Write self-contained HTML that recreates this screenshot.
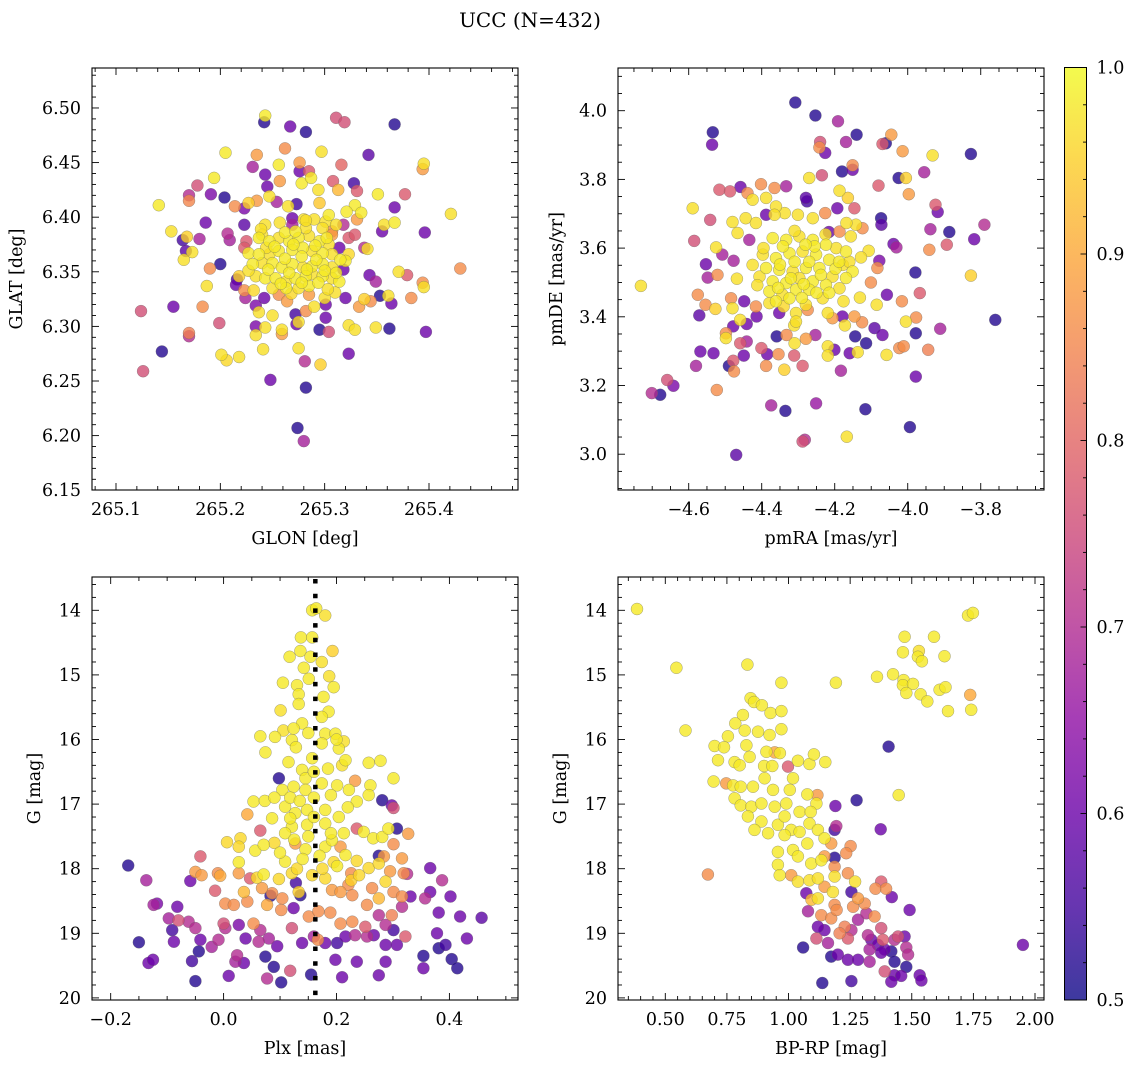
<!DOCTYPE html>
<html><head><meta charset="utf-8"><style>
html,body{margin:0;padding:0;background:#fff;}
svg{display:block;font-family:"DejaVu Serif","Liberation Serif",serif;}
</style></head><body>
<svg id="fig" width="1136" height="1067" viewBox="0 0 1136 1067" xmlns="http://www.w3.org/2000/svg">
<text x="530" y="27" font-size="20" text-anchor="middle">UCC (N=432)</text>
</svg>
<script>
// ---------- data ----------
const panel1Points = [ // [GLON, GLAT, prob]
[265.243,6.493,0.98],[265.242,6.487,0.52],[265.267,6.483,0.6],[265.282,6.478,0.52],[265.311,6.491,0.76],[265.319,6.487,0.76],[265.367,6.485,0.52],
[265.205,6.459,0.98],[265.235,6.457,0.88],[265.262,6.463,0.86],[265.297,6.460,0.97],[265.342,6.457,0.58],[265.256,6.448,0.98],[265.276,6.450,0.88],
[265.316,6.448,0.8],[265.395,6.449,0.97],[265.394,6.444,0.88],[265.231,6.446,0.68],[265.243,6.439,0.6],[265.276,6.442,0.6],[265.285,6.442,0.78],
[265.194,6.436,0.98],[265.178,6.429,0.76],[265.191,6.421,0.62],[265.170,6.420,0.7],[265.170,6.415,0.85],[265.204,6.418,0.52],[265.245,6.428,0.6],
[265.257,6.433,0.88],[265.247,6.419,0.97],[265.278,6.431,0.98],[265.287,6.436,0.98],[265.294,6.425,0.97],[265.308,6.433,0.78],[265.328,6.431,0.55],
[265.331,6.424,0.78],[265.313,6.425,0.92],[265.351,6.421,0.98],[265.377,6.421,0.78],[265.141,6.411,0.98],[265.214,6.410,0.86],[265.223,6.408,0.62],
[265.227,6.413,0.95],[265.235,6.415,0.88],[265.254,6.414,0.68],[265.265,6.410,0.97],[265.273,6.412,0.55],[265.295,6.413,0.94],[265.329,6.411,0.98],
[265.367,6.409,0.6],[265.421,6.403,0.97],[265.186,6.395,0.6],[265.153,6.387,0.97],[265.164,6.379,0.55],[265.168,6.382,0.95],[265.180,6.380,0.68],
[265.207,6.385,0.7],[265.209,6.379,0.68],[265.223,6.393,0.58],[265.243,6.393,0.97],[265.257,6.395,0.97],[265.269,6.399,0.6],[265.280,6.398,0.97],
[265.290,6.398,0.97],[265.301,6.396,0.97],[265.307,6.387,0.86],[265.318,6.393,0.7],[265.321,6.405,0.98],[265.335,6.404,0.98],[265.331,6.398,0.88],
[265.357,6.393,0.97],[265.355,6.387,0.6],[265.367,6.395,0.98],[265.396,6.386,0.6],[265.323,6.381,0.78],[265.329,6.384,0.78],[265.225,6.378,0.78],
[265.338,6.372,0.7],[265.341,6.371,0.97],[265.167,6.369,0.58],[265.173,6.368,0.97],[265.165,6.361,0.97],[265.200,6.357,0.52],[265.190,6.353,0.86],
[265.187,6.337,0.97],[265.216,6.343,0.55],[265.218,6.346,0.95],[265.215,6.338,0.6],[265.223,6.333,0.86],[265.224,6.326,0.68],[265.232,6.333,0.96],
[265.242,6.326,0.6],[265.234,6.319,0.62],[265.237,6.313,0.97],[265.250,6.310,0.97],[265.264,6.323,0.88],[265.272,6.311,0.55],[265.282,6.314,0.86],
[265.290,6.318,0.97],[265.301,6.320,0.6],[265.301,6.308,0.6],[265.300,6.326,0.97],[265.310,6.331,0.97],[265.320,6.326,0.6],[265.314,6.341,0.98],
[265.318,6.352,0.6],[265.320,6.360,0.98],[265.343,6.347,0.6],[265.349,6.341,0.68],[265.353,6.328,0.52],[265.361,6.328,0.97],[265.364,6.321,0.6],
[265.338,6.325,0.95],[265.344,6.323,0.86],[265.333,6.318,0.88],[265.371,6.350,0.97],[265.379,6.347,0.78],[265.394,6.340,0.86],[265.395,6.336,0.97],
[265.383,6.326,0.86],[265.430,6.353,0.86],[265.155,6.318,0.6],[265.124,6.314,0.76],[265.183,6.318,0.86],[265.199,6.303,0.76],[265.170,6.294,0.84],
[265.170,6.291,0.7],[265.144,6.277,0.52],[265.126,6.259,0.76],[265.201,6.274,0.97],[265.206,6.269,0.96],[265.218,6.272,0.97],[265.241,6.279,0.97],
[265.234,6.300,0.62],[265.234,6.292,0.97],[265.243,6.299,0.97],[265.259,6.297,0.97],[265.259,6.293,0.88],[265.273,6.302,0.6],[265.275,6.304,0.97],
[265.295,6.297,0.52],[265.304,6.295,0.76],[265.323,6.301,0.97],[265.329,6.297,0.97],[265.349,6.299,0.97],[265.362,6.298,0.52],[265.397,6.295,0.6],
[265.275,6.280,0.97],[265.281,6.268,0.7],[265.296,6.265,0.95],[265.323,6.275,0.6],[265.248,6.251,0.6],[265.282,6.244,0.52],[265.274,6.207,0.52],
[265.280,6.195,0.68],
[265.237,6.381,0.98],[265.247,6.378,0.98],[265.256,6.381,0.97],[265.266,6.378,0.98],[265.275,6.381,0.98],[265.285,6.383,0.97],[265.295,6.378,0.98],
[265.304,6.375,0.97],[265.227,6.367,0.98],[265.237,6.366,0.98],[265.247,6.366,0.97],[265.256,6.369,0.98],[265.269,6.370,0.98],[265.279,6.372,0.98],
[265.288,6.369,0.97],[265.298,6.367,0.98],[265.307,6.366,0.97],[265.231,6.357,0.98],[265.240,6.358,0.97],[265.250,6.358,0.98],[265.259,6.354,0.98],
[265.269,6.357,0.98],[265.279,6.354,0.97],[265.288,6.355,0.98],[265.298,6.357,0.98],[265.307,6.354,0.97],[265.315,6.361,0.98],[265.234,6.346,0.97],
[265.243,6.344,0.98],[265.253,6.344,0.98],[265.263,6.341,0.97],[265.272,6.344,0.98],[265.282,6.346,0.98],[265.288,6.348,0.97],[265.298,6.346,0.98],
[265.307,6.344,0.97],[265.263,6.335,0.98],[265.275,6.335,0.97],[265.285,6.337,0.98],[265.250,6.335,0.97],[265.240,6.384,0.97],[265.298,6.390,0.97],
[265.304,6.402,0.98],[265.282,6.390,0.97],[265.269,6.393,0.68],[265.223,6.372,0.78],[265.307,6.384,0.88],[265.314,6.372,0.6],[265.285,6.329,0.88],
[265.256,6.329,0.86],[265.227,6.351,0.97],
[265.262,6.386,0.98],[265.272,6.387,0.98],[265.278,6.364,0.98],[265.262,6.362,0.98],[265.252,6.373,0.98],[265.292,6.361,0.98],[265.283,6.352,0.98],
[265.266,6.349,0.98],[265.246,6.352,0.98],[265.300,6.351,0.98],[265.291,6.374,0.98],[265.270,6.375,0.98],[265.258,6.339,0.98],[265.278,6.340,0.98],
[265.294,6.340,0.98],[265.311,6.349,0.98],[265.244,6.372,0.97],[265.302,6.381,0.98],[265.282,6.397,0.97],[265.311,6.393,0.97],[265.323,6.366,0.96],
[265.239,6.389,0.97],[265.268,6.330,0.96],[265.303,6.334,0.97]
];
const panel2Points = [ // [pmRA, pmDE, prob]
[-4.308,4.024,0.52],[-4.253,3.986,0.52],[-4.191,3.969,0.68],[-4.140,3.930,0.52],[-4.169,3.909,0.68],[-4.240,3.909,0.76],[-4.242,3.893,0.86],
[-4.226,3.877,0.6],[-4.534,3.937,0.52],[-4.536,3.901,0.6],[-4.069,3.903,0.78],[-4.060,3.905,0.52],[-4.045,3.930,0.88],[-4.014,3.882,0.88],
[-3.932,3.870,0.97],[-3.827,3.874,0.52],[-4.151,3.841,0.86],[-4.151,3.828,0.6],[-4.180,3.823,0.52],[-4.235,3.812,0.76],[-4.270,3.804,0.97],
[-4.025,3.804,0.52],[-4.005,3.804,0.95],[-3.955,3.821,0.68],[-3.997,3.757,0.88],[-4.080,3.782,0.78],[-4.187,3.767,0.97],[-4.164,3.746,0.95],
[-3.924,3.726,0.78],[-3.918,3.705,0.6],[-4.589,3.716,0.97],[-4.516,3.770,0.78],[-4.487,3.765,0.78],[-4.458,3.778,0.6],[-4.402,3.786,0.86],
[-4.365,3.775,0.86],[-4.333,3.780,0.68],[-4.388,3.746,0.97],[-4.425,3.741,0.97],[-4.439,3.760,0.86],[-4.279,3.746,0.58],[-4.276,3.736,0.55],
[-4.193,3.716,0.6],[-4.146,3.716,0.78],[-4.073,3.687,0.52],[-4.072,3.668,0.58],[-4.541,3.682,0.76],[-4.585,3.621,0.76],[-4.553,3.553,0.6],
[-4.548,3.514,0.68],[-4.731,3.490,0.97],[-4.525,3.602,0.97],[-4.508,3.581,0.68],[-4.477,3.563,0.68],[-4.480,3.676,0.97],[-4.444,3.687,0.97],
[-4.416,3.673,0.97],[-4.466,3.644,0.97],[-4.434,3.624,0.68],[-4.468,3.511,0.97],[-4.521,3.522,0.86],[-4.575,3.464,0.86],[-4.554,3.435,0.86],
[-4.571,3.404,0.58],[-4.527,3.423,0.95],[-4.484,3.454,0.86],[-4.480,3.425,0.97],[-4.448,3.445,0.6],[-4.416,3.430,0.86],[-4.414,3.401,0.6],
[-4.459,3.391,0.97],[-4.441,3.379,0.6],[-4.478,3.372,0.6],[-4.498,3.352,0.86],[-4.498,3.338,0.97],[-4.441,3.328,0.68],[-4.459,3.323,0.78],
[-4.568,3.299,0.6],[-4.532,3.294,0.6],[-4.449,3.287,0.6],[-4.580,3.257,0.68],[-4.490,3.257,0.52],[-4.478,3.272,0.78],[-4.476,3.241,0.86],
[-4.659,3.216,0.76],[-4.642,3.199,0.62],[-4.701,3.178,0.7],[-4.678,3.173,0.52],[-4.523,3.187,0.86],[-4.401,3.309,0.78],[-4.385,3.291,0.6],
[-4.388,3.257,0.86],[-4.354,3.291,0.86],[-4.338,3.246,0.95],[-4.311,3.287,0.78],[-4.288,3.257,0.78],[-4.359,3.343,0.52],[-4.332,3.347,0.86],
[-4.279,3.336,0.88],[-4.253,3.347,0.68],[-4.310,3.323,0.97],[-4.311,3.375,0.97],[-4.306,3.411,0.97],[-4.352,3.411,0.6],[-4.274,3.420,0.86],
[-4.219,3.411,0.97],[-4.206,3.396,0.88],[-4.179,3.401,0.6],[-4.172,3.375,0.97],[-4.146,3.401,0.88],[-4.125,3.384,0.86],[-4.219,3.314,0.97],
[-4.201,3.304,0.6],[-4.219,3.287,0.97],[-4.183,3.243,0.68],[-4.159,3.294,0.6],[-4.137,3.297,0.97],[-4.144,3.343,0.52],[-4.114,3.323,0.52],
[-4.091,3.367,0.58],[-4.069,3.347,0.6],[-4.058,3.289,0.97],[-4.023,3.309,0.86],[-4.011,3.314,0.86],[-4.005,3.386,0.97],[-3.977,3.398,0.86],
[-3.978,3.352,0.52],[-3.944,3.304,0.84],[-3.911,3.365,0.68],[-3.760,3.391,0.52],[-3.978,3.226,0.6],[-3.979,3.529,0.52],[-3.967,3.469,0.78],
[-4.016,3.445,0.86],[-4.057,3.464,0.6],[-4.085,3.435,0.97],[-4.101,3.500,0.86],[-4.131,3.456,0.97],[-4.176,3.445,0.97],[-3.827,3.520,0.95],
[-3.941,3.595,0.86],[-3.893,3.610,0.78],[-3.886,3.647,0.52],[-3.818,3.626,0.6],[-3.790,3.668,0.7],[-3.938,3.655,0.68],[-4.039,3.612,0.6],
[-4.031,3.602,0.68],[-4.078,3.563,0.62],[-4.083,3.542,0.86],[-4.107,3.592,0.97],[-4.128,3.573,0.97],[-4.124,3.658,0.86],[-4.142,3.668,0.97],
[-4.168,3.673,0.97],[-4.156,3.634,0.97],[-4.187,3.648,0.86],[-4.216,3.647,0.6],[-4.226,3.702,0.86],[-4.260,3.687,0.97],[-4.301,3.697,0.97],
[-4.337,3.702,0.97],[-4.361,3.721,0.97],[-4.388,3.697,0.6],[-4.365,3.697,0.97],[-4.288,3.037,0.76],[-4.282,3.042,0.7],[-4.335,3.126,0.52],
[-4.374,3.142,0.68],[-4.251,3.148,0.66],[-4.116,3.131,0.52],[-3.994,3.079,0.52],[-4.167,3.051,0.97],[-4.470,2.998,0.58],
[-4.370,3.629,0.98],[-4.333,3.624,0.98],[-4.297,3.634,0.97],[-4.260,3.624,0.98],[-4.224,3.610,0.98],[-4.196,3.600,0.97],[-4.169,3.590,0.98],
[-4.397,3.581,0.97],[-4.361,3.571,0.98],[-4.324,3.585,0.98],[-4.288,3.590,0.97],[-4.251,3.581,0.98],[-4.215,3.566,0.98],[-4.178,3.551,0.97],
[-4.151,3.532,0.98],[-4.425,3.551,0.97],[-4.388,3.542,0.98],[-4.352,3.537,0.98],[-4.315,3.532,0.97],[-4.279,3.542,0.98],[-4.242,3.542,0.98],
[-4.206,3.517,0.97],[-4.169,3.513,0.98],[-4.406,3.517,0.97],[-4.370,3.503,0.98],[-4.333,3.498,0.98],[-4.297,3.513,0.97],[-4.260,3.503,0.98],
[-4.224,3.493,0.98],[-4.187,3.483,0.97],[-4.379,3.474,0.98],[-4.343,3.464,0.97],[-4.306,3.479,0.98],[-4.270,3.479,0.98],[-4.233,3.454,0.97],
[-4.361,3.445,0.98],[-4.324,3.454,0.98],[-4.279,3.435,0.97],[-4.379,3.440,0.97],[-4.306,3.386,0.97],
[-4.342,3.605,0.98],[-4.310,3.560,0.98],[-4.270,3.560,0.98],[-4.238,3.522,0.98],[-4.198,3.540,0.98],[-4.350,3.552,0.98],[-4.320,3.512,0.98],
[-4.285,3.495,0.98],[-4.250,3.470,0.98],[-4.215,3.470,0.98],[-4.395,3.600,0.97],[-4.412,3.492,0.97],[-4.355,3.484,0.98],[-4.290,3.455,0.98],
[-4.255,3.605,0.98],[-4.310,3.650,0.97],[-4.280,3.610,0.98],[-4.188,3.560,0.98],[-4.160,3.560,0.97],[-4.340,3.430,0.96],[-4.225,3.640,0.97]
];
const panel3Points = [ // [Plx, G, prob]
[0.157,14.00,0.98],[0.164,13.97,0.98],[0.180,14.08,0.97],[0.137,14.42,0.98],[0.157,14.42,0.98],[0.193,14.63,0.95],[0.117,14.72,0.98],
[0.136,14.63,0.98],[0.154,14.72,0.98],[0.174,14.80,0.97],[0.142,14.89,0.98],[0.105,15.12,0.98],[0.130,15.16,0.98],[0.151,15.06,0.98],
[0.187,15.02,0.97],[0.195,15.19,0.98],[0.133,15.30,0.98],[0.177,15.34,0.98],[0.133,15.45,0.98],[0.101,15.55,0.97],[0.186,15.57,0.98],
[0.174,15.65,0.98],[0.139,15.75,0.98],[0.124,15.83,0.98],[0.106,15.86,0.97],[0.065,15.95,0.98],[0.091,15.96,0.98],[0.121,16.01,0.98],
[0.128,16.12,0.98],[0.180,15.91,0.98],[0.198,15.91,0.98],[0.213,16.03,0.97],[0.204,16.14,0.98],[0.074,16.20,0.98],[0.174,16.06,0.98],
[0.157,16.29,0.98],[0.216,16.32,0.98],[0.210,16.40,0.97],[0.257,16.36,0.98],[0.278,16.33,0.98],[0.301,16.60,0.98],[0.098,16.60,0.52],
[0.139,16.47,0.98],[0.145,16.60,0.98],[0.104,16.78,0.98],[0.124,16.73,0.98],[0.145,16.78,0.98],[0.174,16.68,0.98],[0.201,16.71,0.98],
[0.233,16.64,0.88],[0.260,16.71,0.98],[0.222,16.78,0.98],[0.257,16.86,0.98],[0.236,16.96,0.98],[0.281,16.94,0.52],[0.298,17.02,0.6],
[0.301,17.06,0.76],[0.053,16.96,0.98],[0.073,16.95,0.98],[0.042,17.16,0.9],[0.086,17.22,0.98],[0.109,17.04,0.98],[0.127,17.14,0.98],
[0.148,17.09,0.98],[0.180,17.09,0.98],[0.204,17.20,0.98],[0.121,17.35,0.98],[0.148,17.32,0.98],[0.180,17.30,0.98],[0.213,17.45,0.98],
[0.065,17.41,0.78],[0.109,17.45,0.98],[0.236,17.38,0.78],[0.248,17.43,0.98],[0.265,17.53,0.98],[0.281,17.51,0.98],[0.292,17.38,0.98],
[0.307,17.38,0.52],[0.327,17.46,0.88],[0.301,17.62,0.86],[0.006,17.59,0.96],[0.030,17.53,0.96],[0.027,17.66,0.96],[0.056,17.72,0.98],
[0.071,17.63,0.98],[-0.041,17.81,0.78],[0.027,17.90,0.98],[0.109,17.89,0.98],[0.127,17.61,0.88],[0.145,17.70,0.98],[0.180,17.66,0.98],
[0.192,17.56,0.98],[0.207,17.66,0.88],[0.216,17.79,0.98],[0.275,17.80,0.52],[0.284,17.81,0.88],[0.316,17.84,0.88],[0.201,17.96,0.98],
[0.236,17.88,0.96],[0.257,17.99,0.96],[0.275,17.92,0.96],[0.295,18.04,0.88],[0.319,18.07,0.86],[0.325,18.08,0.7],[0.366,17.99,0.6],
[-0.169,17.95,0.52],[-0.137,18.18,0.68],[-0.059,18.19,0.6],[-0.050,18.05,0.88],[-0.039,18.10,0.88],[-0.010,18.07,0.86],[-0.006,18.11,0.9],
[0.027,18.07,0.88],[0.047,18.15,0.78],[0.059,18.14,0.96],[0.071,18.09,0.98],[0.098,18.16,0.96],[0.121,18.07,0.96],[0.128,18.22,0.55],
[0.157,18.10,0.96],[0.180,18.15,0.96],[0.226,18.07,0.86],[0.226,18.18,0.95],[0.221,18.25,0.86],[0.387,18.18,0.7],[-0.015,18.34,0.78],
[0.036,18.36,0.92],[0.068,18.30,0.88],[0.086,18.38,0.86],[0.133,18.36,0.95],[0.136,18.41,0.52],[0.083,18.42,0.52],[0.104,18.46,0.86],
[0.192,18.33,0.88],[0.207,18.36,0.88],[0.228,18.41,0.86],[0.263,18.30,0.86],[0.275,18.46,0.92],[0.287,18.20,0.96],[0.301,18.36,0.86],
[0.316,18.43,0.86],[0.331,18.43,0.6],[0.357,18.46,0.7],[0.366,18.36,0.6],[0.402,18.43,0.6],[-0.124,18.56,0.68],[-0.118,18.54,0.62],
[-0.082,18.59,0.6],[0.003,18.54,0.86],[0.018,18.56,0.86],[0.042,18.51,0.86],[0.077,18.56,0.9],[0.102,18.64,0.86],[0.124,18.61,0.6],
[0.151,18.74,0.86],[0.168,18.66,0.86],[0.189,18.68,0.86],[0.254,18.56,0.86],[0.275,18.72,0.7],[0.298,18.72,0.84],[0.316,18.59,0.7],
[0.381,18.68,0.6],[0.419,18.74,0.6],[0.457,18.76,0.58],[-0.097,18.77,0.68],[-0.080,18.80,0.76],[-0.062,18.82,0.7],[-0.050,18.92,0.7],
[-0.091,18.95,0.55],[-0.088,19.13,0.6],[-0.150,19.14,0.52],[-0.041,19.10,0.6],[0.000,18.85,0.76],[0.003,18.92,0.7],[0.027,18.87,0.62],
[0.053,18.85,0.86],[0.065,18.95,0.7],[0.039,19.08,0.6],[-0.009,19.10,0.7],[-0.021,19.21,0.68],[0.062,19.13,0.7],[0.080,19.08,0.68],
[0.095,19.20,0.6],[0.121,18.92,0.76],[0.139,19.15,0.6],[0.160,19.05,0.68],[0.167,19.10,0.86],[0.180,19.15,0.6],[0.201,19.15,0.55],
[0.216,19.05,0.6],[0.207,18.85,0.86],[0.228,18.82,0.86],[0.233,19.03,0.7],[0.251,18.90,0.78],[0.254,19.05,0.7],[0.266,19.03,0.6],
[0.287,18.87,0.7],[0.301,18.95,0.55],[0.287,19.18,0.6],[0.307,19.18,0.6],[0.322,19.05,0.78],[0.378,19.00,0.6],[0.381,19.23,0.52],
[0.393,19.18,0.55],[0.431,19.08,0.6],[0.354,19.35,0.52],[-0.133,19.46,0.6],[-0.125,19.41,0.6],[-0.056,19.43,0.55],[-0.044,19.28,0.52],
[0.024,19.34,0.7],[0.021,19.44,0.68],[0.036,19.46,0.6],[0.074,19.36,0.52],[0.089,19.52,0.52],[0.118,19.58,0.76],[0.198,19.41,0.6],
[0.236,19.44,0.6],[0.287,19.44,0.6],[0.354,19.54,0.6],[0.404,19.40,0.52],[0.414,19.54,0.52],[-0.050,19.74,0.52],[0.009,19.66,0.6],
[0.077,19.70,0.7],[0.102,19.76,0.52],[0.155,19.64,0.52],[0.210,19.68,0.6],[0.275,19.65,0.6],
[0.118,16.90,0.98],[0.135,16.95,0.98],[0.160,16.90,0.98],[0.190,16.86,0.98],[0.118,17.22,0.98],[0.160,17.20,0.98],[0.190,17.45,0.98],
[0.150,17.50,0.98],[0.125,17.55,0.98],[0.170,17.80,0.98],[0.140,17.85,0.98],[0.100,17.75,0.98],[0.160,16.50,0.98],[0.185,16.45,0.98],
[0.115,16.35,0.98],[0.090,16.90,0.98],[0.220,17.05,0.98],[0.200,16.00,0.98],[0.150,15.90,0.98],[0.195,17.90,0.96],[0.130,18.00,0.96],
[0.175,18.00,0.96],[0.240,18.10,0.96],[0.090,17.60,0.96]
];
const panel4Points = [ // [BP-RP, G, prob]
[0.385,13.98,0.98],[1.728,14.08,0.98],[1.748,14.04,0.98],[1.471,14.41,0.98],[1.590,14.41,0.98],[1.464,14.65,0.98],[1.529,14.63,0.97],
[1.525,14.72,0.98],[1.541,14.79,0.98],[1.633,14.71,0.98],[0.545,14.89,0.98],[0.833,14.84,0.98],[0.971,15.12,0.98],[1.192,15.12,0.98],
[1.359,15.03,0.98],[1.424,14.99,0.98],[1.467,15.08,0.98],[1.464,15.16,0.98],[1.505,15.14,0.98],[1.478,15.28,0.98],[1.536,15.30,0.98],
[1.563,15.41,0.98],[1.613,15.23,0.98],[1.637,15.19,0.98],[1.737,15.31,0.9],[1.647,15.56,0.98],[1.741,15.54,0.98],[1.406,16.11,0.52],
[1.447,16.86,0.98],[0.582,15.86,0.98],[0.846,15.36,0.98],[0.860,15.42,0.98],[0.892,15.47,0.98],[0.927,15.59,0.98],[0.971,15.56,0.98],
[0.815,15.62,0.98],[0.784,15.75,0.98],[0.822,15.86,0.98],[0.876,15.88,0.98],[0.923,15.93,0.98],[0.971,15.84,0.98],[0.754,15.95,0.98],
[0.700,16.10,0.98],[0.738,16.12,0.98],[0.714,16.32,0.98],[0.829,16.09,0.98],[0.842,16.27,0.98],[0.781,16.35,0.98],[0.802,16.40,0.98],
[0.910,16.19,0.98],[0.944,16.20,0.9],[0.965,16.21,0.98],[0.901,16.41,0.98],[0.934,16.41,0.98],[1.038,16.33,0.98],[1.085,16.38,0.98],
[1.103,16.23,0.98],[1.149,16.35,0.98],[0.998,16.42,0.78],[0.696,16.65,0.98],[0.747,16.68,0.88],[0.775,16.71,0.98],[0.806,16.73,0.98],
[0.856,16.73,0.98],[0.903,16.60,0.98],[0.937,16.78,0.98],[1.018,16.60,0.98],[1.005,16.78,0.98],[1.076,16.85,0.98],[1.117,16.86,0.88],
[1.113,16.99,0.98],[0.781,16.91,0.98],[0.806,17.02,0.98],[0.849,17.04,0.98],[0.890,16.99,0.98],[0.944,17.04,0.98],[0.991,16.99,0.98],
[1.045,17.12,0.98],[1.090,17.12,0.98],[0.835,17.19,0.98],[0.890,17.27,0.98],[0.957,17.32,0.98],[1.011,17.40,0.98],[0.984,17.19,0.98],
[0.862,17.40,0.98],[0.917,17.45,0.98],[0.984,17.48,0.98],[1.045,17.43,0.98],[1.085,17.30,0.98],[1.119,17.40,0.98],[1.146,17.53,0.98],
[1.076,17.61,0.98],[1.018,17.71,0.98],[0.957,17.74,0.98],[0.957,17.94,0.98],[0.964,18.10,0.98],[1.038,17.81,0.98],[1.092,17.92,0.98],
[1.133,17.87,0.98],[1.187,17.40,0.55],[1.194,17.34,0.7],[1.190,17.03,0.6],[1.276,16.94,0.52],[1.374,17.39,0.6],[1.252,17.65,0.86],
[1.234,17.76,0.86],[1.187,17.83,0.52],[1.146,17.81,0.88],[1.173,17.61,0.88],[0.673,18.09,0.86],[1.187,17.97,0.86],[1.011,18.10,0.88],
[1.038,18.20,0.97],[1.085,18.18,0.97],[1.119,18.15,0.97],[1.187,18.12,0.97],[1.241,18.07,0.86],[1.270,18.20,0.97],[1.376,18.20,0.78],
[1.353,18.31,0.86],[1.396,18.31,0.86],[1.419,18.44,0.6],[1.491,18.64,0.6],[1.072,18.38,0.6],[1.093,18.48,0.92],[1.119,18.46,0.97],
[1.146,18.28,0.88],[1.180,18.36,0.97],[1.187,18.56,0.86],[1.255,18.36,0.55],[1.282,18.46,0.88],[1.309,18.54,0.86],[1.262,18.59,0.86],
[1.079,18.66,0.68],[1.133,18.72,0.86],[1.173,18.77,0.86],[1.195,18.64,0.86],[1.349,18.74,0.86],[1.282,18.79,0.68],[1.316,18.69,0.7],
[1.228,18.90,0.84],[1.255,18.95,0.7],[1.207,19.00,0.84],[1.241,19.08,0.78],[1.146,18.95,0.6],[1.119,18.90,0.6],[1.113,19.08,0.76],
[1.160,19.15,0.68],[1.059,19.22,0.52],[1.200,19.33,0.6],[1.173,19.36,0.52],[1.241,19.41,0.6],[1.282,19.41,0.6],[1.329,19.44,0.68],
[1.376,18.92,0.76],[1.322,19.03,0.7],[1.336,19.10,0.6],[1.363,19.18,0.6],[1.390,19.25,0.6],[1.383,19.10,0.78],[1.430,19.10,0.7],
[1.471,19.05,0.6],[1.444,19.05,0.76],[1.478,19.22,0.7],[1.485,19.33,0.7],[1.417,19.28,0.52],[1.430,19.44,0.52],[1.376,19.30,0.6],
[1.390,19.59,0.76],[1.430,19.65,0.6],[1.478,19.52,0.52],[1.457,19.66,0.6],[1.417,19.75,0.6],[1.532,19.65,0.6],[1.539,19.73,0.6],
[1.255,19.74,0.55],[1.137,19.77,0.52],[1.951,19.18,0.6],[1.329,19.25,0.68]
];
const plxMedian = 0.1625;
const cbarTicks = [0.5, 0.6, 0.7, 0.8, 0.9, 1.0];

// ---------- rendering ----------
const NS = "http://www.w3.org/2000/svg";
const svg = document.getElementById('fig');
function mk(tag, attrs, parent){ const e=document.createElementNS(NS,tag); for(const k in attrs) e.setAttribute(k,attrs[k]); (parent||svg).appendChild(e); return e; }

const plasma = ["#0d0887","#41049d","#6a00a8","#8f0da4","#b12a90","#cc4778","#e16462","#f2844b","#fca636","#fcce25","#f0f921"];
function hex2rgb(h){return [parseInt(h.substr(1,2),16),parseInt(h.substr(3,2),16),parseInt(h.substr(5,2),16)];}
function cmap(p){ let t=Math.max(0,Math.min(1,(p-0.5)/0.5))*10; const i=Math.min(9,Math.floor(t)); const f=t-i;
  const a=hex2rgb(plasma[i]), b=hex2rgb(plasma[i+1]); return `rgb(${a.map((v,k)=>Math.round(v+(b[k]-v)*f)).join(',')})`; }
function fmtMinus(s){ return s.replace('-', '\u2212'); }

const FS = 17.5;
const panels = [
 {name:'glon-glat', pts:panel1Points, px:[92,518], py:[68,490], dx:[265.0770,265.4853], dy:[6.5366,6.1502],
  xt:[265.1,265.2,265.3,265.4], xm:0.02, xd:1, yt:[6.15,6.20,6.25,6.30,6.35,6.40,6.45,6.50], ym:0.01, yd:2,
  xl:'GLON [deg]', yl:'GLAT [deg]', ylx:22},
 {name:'pmra-pmde', pts:panel2Points, px:[618,1044], py:[68,490], dx:[-4.7937,-3.6267], dy:[4.1243,2.8958],
  xt:[-4.6,-4.4,-4.2,-4.0,-3.8], xm:0.05, xd:1, yt:[3.0,3.2,3.4,3.6,3.8,4.0], ym:0.05, yd:1,
  xl:'pmRA [mas/yr]', yl:'pmDE [mas/yr]', ylx:562},
 {name:'plx-g', pts:panel3Points, px:[92,518], py:[577,1000], dx:[-0.2331,0.5215], dy:[13.4845,20.0325],
  xt:[-0.2,0.0,0.2,0.4], xm:0.05, xd:1, yt:[14,15,16,17,18,19,20], ym:0.2, yd:0,
  xl:'Plx [mas]', yl:'G [mag]', ylx:40},
 {name:'bprp-g', pts:panel4Points, px:[618,1044], py:[577,1000], dx:[0.3081,2.0365], dy:[13.4845,20.0325],
  xt:[0.5,0.75,1.0,1.25,1.5,1.75,2.0], xm:0.05, xd:2, yt:[14,15,16,17,18,19,20], ym:0.2, yd:0,
  xl:'BP-RP [mag]', yl:'G [mag]', ylx:566}
];

panels.forEach((P,pi)=>{
  const sx = v => P.px[0] + (v-P.dx[0])/(P.dx[1]-P.dx[0])*(P.px[1]-P.px[0]);
  const sy = v => P.py[0] + (v-P.dy[0])/(P.dy[1]-P.dy[0])*(P.py[1]-P.py[0]);
  const g = mk('g',{});
  
  
  const cid='clip'+pi;
  const cp=mk('clipPath',{id:cid},g); mk('rect',{x:P.px[0],y:P.py[0],width:P.px[1]-P.px[0],height:P.py[1]-P.py[0]},cp);
  const pg = mk('g',{'clip-path':`url(#${cid})`},g);
  const sorted = P.pts.slice().sort((a,b)=>a[2]-b[2]);
  sorted.forEach(d=>{
    const c = mk('circle',{cx:sx(d[0]).toFixed(1), cy:sy(d[1]).toFixed(1), r:6, fill:cmap(d[2]), 'fill-opacity':0.8,
      stroke:'#666', 'stroke-width':0.5, 'stroke-opacity':0.6}, pg);
    
    
  });
  if(pi===2){
    const ln = mk('line',{x1:sx(plxMedian),x2:sx(plxMedian),y1:P.py[0]+2,y2:P.py[1],stroke:'#000','stroke-width':4.5,'stroke-dasharray':'4.5 10.2'},pg);
    
    
  }
  const fr = mk('rect',{x:P.px[0],y:P.py[0],width:P.px[1]-P.px[0],height:P.py[1]-P.py[0],fill:'none',stroke:'#000','stroke-width':1.1},g);
  
  
  const tk = mk('g',{stroke:'#000','stroke-width':0.9},g);
  const eps=1e-9;
  const x0=Math.ceil(P.dx[0]/P.xm - eps)*P.xm;
  for(let v=x0; v<=P.dx[1]+eps; v+=P.xm){ const X=sx(v);
    const major = P.xt.some(t=>Math.abs(t-v)<P.xm/10); const L = major?7:4;
    mk('line',{x1:X,x2:X,y1:P.py[1],y2:P.py[1]-L},tk); mk('line',{x1:X,x2:X,y1:P.py[0],y2:P.py[0]+L},tk); }
  const lo=Math.min(P.dy[0],P.dy[1]), hi=Math.max(P.dy[0],P.dy[1]);
  const y0=Math.ceil(lo/P.ym - eps)*P.ym;
  for(let v=y0; v<=hi+eps; v+=P.ym){ const Y=sy(v);
    const major = P.yt.some(t=>Math.abs(t-v)<P.ym/10); const L = major?7:4;
    mk('line',{x1:P.px[0],x2:P.px[0]+L,y1:Y,y2:Y},tk); mk('line',{x1:P.px[1],x2:P.px[1]-L,y1:Y,y2:Y},tk); }
  P.xt.forEach(v=>{ const t=mk('text',{x:sx(v),y:P.py[1]+25,'font-size':FS,'text-anchor':'middle'},g);
    t.textContent=fmtMinus(v.toFixed(P.xd));
    
     });
  P.yt.forEach(v=>{ const t=mk('text',{x:P.px[0]-11,y:sy(v)+6,'font-size':FS,'text-anchor':'end'},g);
    t.textContent=fmtMinus(v.toFixed(P.yd));
    
     });
  const xl=mk('text',{x:(P.px[0]+P.px[1])/2,y:P.py[1]+54,'font-size':FS,'text-anchor':'middle'},g);
  xl.textContent=P.xl;
  
  
  const yc=(P.py[0]+P.py[1])/2;
  const yl=mk('text',{x:P.ylx,y:yc,'font-size':FS,'text-anchor':'middle',transform:`rotate(-90 ${P.ylx} ${yc})`},g);
  yl.textContent=P.yl;
  
  
});

// colorbar
(function(){
  const cx0=1064.5, cx1=1086.5, cy0=67.5, cy1=1000;
  const cb = mk('g',{});
  
  
  const defs=mk('defs',{},cb);
  const lg=mk('linearGradient',{id:'cbg',x1:0,y1:1,x2:0,y2:0},defs);
  plasma.forEach((c,i)=>mk('stop',{offset:(i/10),'stop-color':c,'stop-opacity':0.8},lg));
  mk('rect',{x:cx0,y:cy0,width:cx1-cx0,height:cy1-cy0,fill:'url(#cbg)',stroke:'#000','stroke-width':1},cb);
  const sy = v => cy1 - (v-0.5)/0.5*(cy1-cy0);
  for(let k=0;k<=25;k++){ const v=0.5+k*0.02; const Y=sy(v); const major=(k%5===0); const L=major?6:3.5;
    mk('line',{x1:cx1,x2:cx1-L,y1:Y,y2:Y,stroke:'#000','stroke-width':0.9},cb); }
  cbarTicks.forEach(v=>{ const t=mk('text',{x:cx1+10,y:sy(v)+6,'font-size':FS},cb);
    t.textContent=v.toFixed(1);
    
     });
})();
</script>
</body></html>
